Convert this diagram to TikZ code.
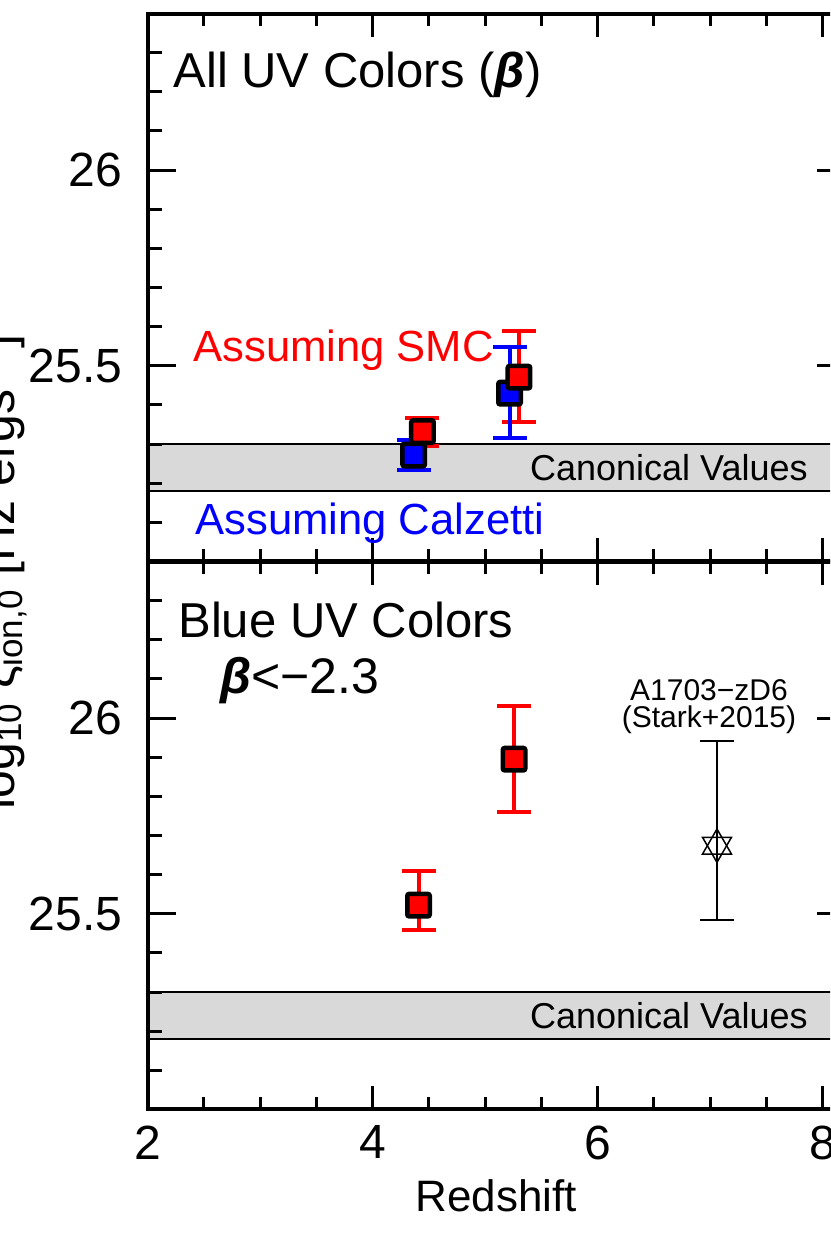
\documentclass[tikz,border=0pt]{standalone}
\usepackage{fontspec}
\setmainfont{Liberation Sans}
\usetikzlibrary{arrows.meta}
\usetikzlibrary{shapes.geometric}

\begin{document}
\begin{tikzpicture}
\tikzset{font=\fontsize{24}{28}\selectfont}
\tikzset{frame/.style={line width=2pt}}
\tikzset{tck/.style={line width=1.5pt}}
\tikzset{band/.style={fill=black!15, draw=black, line width=1.25pt}}
\tikzset{errbar/.style={line width=2pt, {Bar[width=17pt]}-{Bar[width=17pt]}}}
\tikzset{errthin/.style={line width=1pt, {Bar[width=17pt]}-{Bar[width=17pt]}}}
\tikzset{sqr/.style={draw=black, line width=2.25pt, minimum size=11.25pt, inner sep=0pt, rounded corners=1pt}}
\tikzset{tri/.style={draw, regular polygon, regular polygon sides=3, minimum size=16.7pt, inner sep=0pt, line width=0.75pt}}
\tikzset{title/.style={anchor=base west, inner sep=0pt, font=\fontsize{24.5}{28}\selectfont}}
\tikzset{note/.style={anchor=base west, inner sep=0pt, font=\fontsize{21.8}{26}\selectfont}}
\tikzset{canon/.style={anchor=base east, inner sep=0pt, font=\fontsize{18}{22}\selectfont}}
\tikzset{ticklab/.style={inner sep=0pt, font=\fontsize{24}{28}\selectfont}}
\tikzset{reflab/.style={anchor=base, inner sep=0pt, font=\fontsize{15}{18}\selectfont}}
\tikzset{toppanel/.style={shift={(73.75pt,340.25pt)}, x=56.25pt, y=195.7pt, shift={(-2,-25)}}}
\tikzset{botpanel/.style={shift={(73.75pt,66.25pt)}, x=56.25pt, y=195.7pt, shift={(-2,-25)}}}
\useasboundingbox (0,0) rectangle (415pt,621pt);
\clip (0,0) rectangle (415pt,621pt);

\node[rotate=90, anchor=base, inner sep=0pt, font=\fontsize{25}{30}\selectfont] (ylab) at (7pt,335pt)
  {log\textsubscript{10} ξ\textsubscript{ion,0} [Hz ergs\textsuperscript{−1}]};

% upper panel: all UV colours
\begin{scope}[toppanel]
\draw[band] (2,25.18) rectangle (8.2,25.3);
\draw[frame] (2,25) rectangle (8.2,26.4);
\foreach \k in {1,...,13} {
  \draw[tck] (2,{25+\k/10}) -- ++(7pt,0);
  \draw[tck] (8.2,{25+\k/10}) -- ++(-7pt,0);
}
\foreach \v in {25.5,26} {
  \draw[tck] (2,\v) -- ++(14pt,0);
  \draw[tck] (8.2,\v) -- ++(-14pt,0);
}
\foreach \z in {2.5,3,...,8} {
  \draw[tck] (\z,25) -- ++(0,6pt);
  \draw[tck] (\z,26.4) -- ++(0,-6pt);
}
\foreach \z in {4,6,8} {
  \draw[tck] (\z,25) -- ++(0,11.5pt);
  \draw[tck] (\z,26.4) -- ++(0,-11.5pt);
}
\foreach \v [count=\k] in {25.5,26}
  \node[ticklab, anchor=east] (ytop\k) at ([xshift=-12.5pt]2,\v) {\v};

\foreach \n/\z/\lo/\hi in {smcA/4.444/25.291/25.372, smcB/5.302/25.350/25.593} {
  \coordinate (\n lo) at (\z,\lo);
  \coordinate (\n hi) at (\z,\hi);
  \draw[errbar, red] (\n lo) -- (\n hi);
}
\foreach \n/\z/\lo/\hi in {calA/4.366/25.228/25.315, calB/5.218/25.310/25.553} {
  \coordinate (\n lo) at (\z,\lo);
  \coordinate (\n hi) at (\z,\hi);
  \draw[errbar, blue] (\n lo) -- (\n hi);
}
\node[sqr, fill=blue] (calA) at (4.366,25.272) {};
\node[sqr, fill=blue] (calB) at (5.218,25.430) {};
\node[sqr, fill=red] (smcA) at (4.444,25.332) {};
\node[sqr, fill=red] (smcB) at (5.302,25.471) {};

\node[title] (alluv) at (2.227,26.212) {All UV Colors ({\bfseries\itshape β})};
\node[note, text=red] (smclab) at (2.404,25.512) {Assuming SMC};
\node[note, text=blue] (callab) at (2.422,25.070) {Assuming Calzetti};
\node[canon] (canontop) at (7.871,25.208) {Canonical Values};
\end{scope}

% lower panel: blue UV colours
\begin{scope}[botpanel]
\draw[band] (2,25.18) rectangle (8.2,25.3);
\draw[frame] (2,25) rectangle (8.2,26.4);
\foreach \k in {1,...,13} {
  \draw[tck] (2,{25+\k/10}) -- ++(7pt,0);
  \draw[tck] (8.2,{25+\k/10}) -- ++(-7pt,0);
}
\foreach \v in {25.5,26} {
  \draw[tck] (2,\v) -- ++(14pt,0);
  \draw[tck] (8.2,\v) -- ++(-14pt,0);
}
\foreach \z in {2.5,3,...,8} {
  \draw[tck] (\z,25) -- ++(0,6pt);
  \draw[tck] (\z,26.4) -- ++(0,-6pt);
}
\foreach \z in {4,6,8} {
  \draw[tck] (\z,25) -- ++(0,11.5pt);
  \draw[tck] (\z,26.4) -- ++(0,-11.5pt);
}
\foreach \v [count=\k] in {25.5,26}
  \node[ticklab, anchor=east] (ybot\k) at ([xshift=-12.5pt]2,\v) {\v};
\foreach \z in {2,4,6,8}
  \node[ticklab, anchor=north] (xlab\z) at ([yshift=-8pt]\z,25) {\z};
\node[anchor=base, inner sep=0pt, font=\fontsize{22}{26}\selectfont] (xtitle) at ([yshift=-51.25pt]5.1,25) {Redshift};

\foreach \n/\z/\lo/\hi in {bluA/4.409/25.453/25.614, bluB/5.258/25.754/26.036} {
  \coordinate (\n lo) at (\z,\lo);
  \coordinate (\n hi) at (\z,\hi);
  \draw[errbar, red] (\n lo) -- (\n hi);
}
\node[sqr, fill=red] (bluA) at (4.409,25.522) {};
\node[sqr, fill=red] (bluB) at (5.258,25.895) {};

\coordinate (starklo) at (7.062,25.482);
\coordinate (starkhi) at (7.062,25.944);
\draw[errthin] (starklo) -- (starkhi);
\node[tri] (starup) at (7.062,25.674) {};
\node[tri, shape border rotate=180] (stardn) at (starup) {};

\node[title] (blueuv) at (2.271,26.207) {Blue UV Colors};
\node[anchor=base west, inner sep=0pt, font=\fontsize{25}{30}\selectfont] (betacut) at (2.644,26.064) {{\bfseries\itshape β}<−2.3};
\node[reflab] (refname) at (6.991,26.046) {A1703−zD6};
\node[reflab] (refcite) at ([yshift=-13.5pt]refname.base) {(Stark+2015)};
\node[canon] (canonbot) at (7.871,25.208) {Canonical Values};
\end{scope}
\end{tikzpicture}
\end{document}
